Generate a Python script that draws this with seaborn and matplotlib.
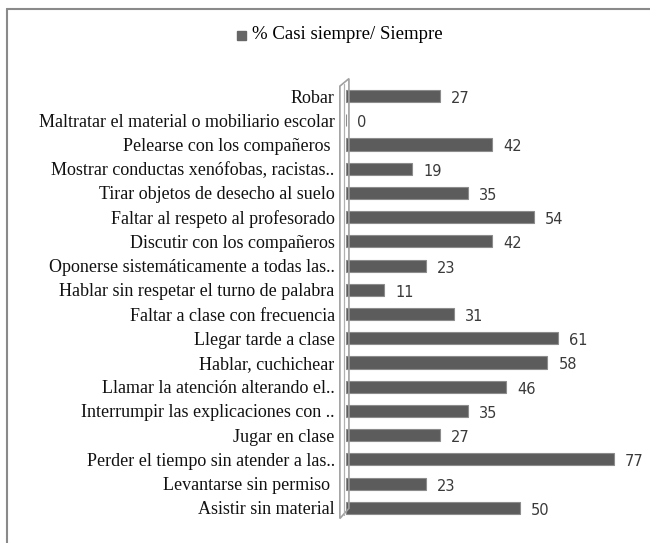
import seaborn as sns
import matplotlib.pyplot as plt
import pandas as pd
from matplotlib.patches import Polygon, Rectangle

labels = [
    "Robar",
    "Maltratar el material o mobiliario escolar",
    "Pelearse con los compañeros ",
    "Mostrar conductas xenófobas, racistas..",
    "Tirar objetos de desecho al suelo",
    "Faltar al respeto al profesorado",
    "Discutir con los compañeros",
    "Oponerse sistemáticamente a todas las..",
    "Hablar sin respetar el turno de palabra",
    "Faltar a clase con frecuencia",
    "Llegar tarde a clase",
    "Hablar, cuchichear",
    "Llamar la atención alterando el..",
    "Interrumpir las explicaciones con ..",
    "Jugar en clase",
    "Perder el tiempo sin atender a las..",
    "Levantarse sin permiso ",
    "Asistir sin material",
]
values = [27, 0, 42, 19, 35, 54, 42, 23, 11, 31, 61, 58, 46, 35, 27, 77, 23, 50]
series_name = "% Casi siempre/ Siempre"

df = pd.DataFrame({"conducta": labels, "pct": values})

sns.set_style("white")
plt.rcParams['font.family'] = ['Liberation Serif', 'DejaVu Serif']

fig = plt.figure(figsize=(6.5, 5.43), dpi=100)
ax = fig.add_axes([0.532, 0.0424, 0.428, 0.803])

sns.barplot(data=df, x="pct", y="conducta", color="#5c5c5c", saturation=1,
            width=0.5, edgecolor="#8c8c8c", linewidth=0.8, ax=ax)

ax.set_xlim(0, 80)
ax.set_ylim(len(labels) - 0.5, -0.5)
ax.set_xlabel("")
ax.set_ylabel("")
ax.set_xticks([])
for s in ax.spines.values():
    s.set_visible(False)
ax.tick_params(axis="y", length=0, pad=8, labelsize=13, labelcolor="#111111")

# value labels
for i, v in enumerate(values):
    ax.text(v + 3.3, i + 0.1, str(v), va="center", ha="left", fontsize=10.5,
            family="DejaVu Sans", color="#3a3a3a", clip_on=False)

# 3D wall on the left
wall = Polygon([(-1.7, 17.44), (-1.7, -0.41), (0.9, -0.72), (0.9, 17.02)],
               closed=True, transform=ax.transData, fill=False,
               edgecolor="#a0a0a0", linewidth=1.2, clip_on=False)
ax.add_patch(wall)
ax.plot([-0.6, -0.6], [-0.5, 17.3], color="#b0b0b0", lw=0.9, clip_on=False)

# legend
fig.patches.append(Rectangle((237 / 650, 1 - 40 / 543), 9 / 650, 9 / 543,
                             transform=fig.transFigure, color="#666666"))
fig.text(252 / 650, 1 - 35 / 543, series_name, fontsize=13.5, va="center",
         ha="left", color="black")

# chart border (left and top visible)
fig.add_artist(plt.Line2D([7 / 650, 7 / 650], [0, 1 - 9 / 543],
                          transform=fig.transFigure, color="#8a8a8a", lw=1.5))
fig.add_artist(plt.Line2D([7 / 650, 1], [1 - 9 / 543, 1 - 9 / 543],
                          transform=fig.transFigure, color="#8a8a8a", lw=1.5))

fig.savefig("out.png", dpi=100)
